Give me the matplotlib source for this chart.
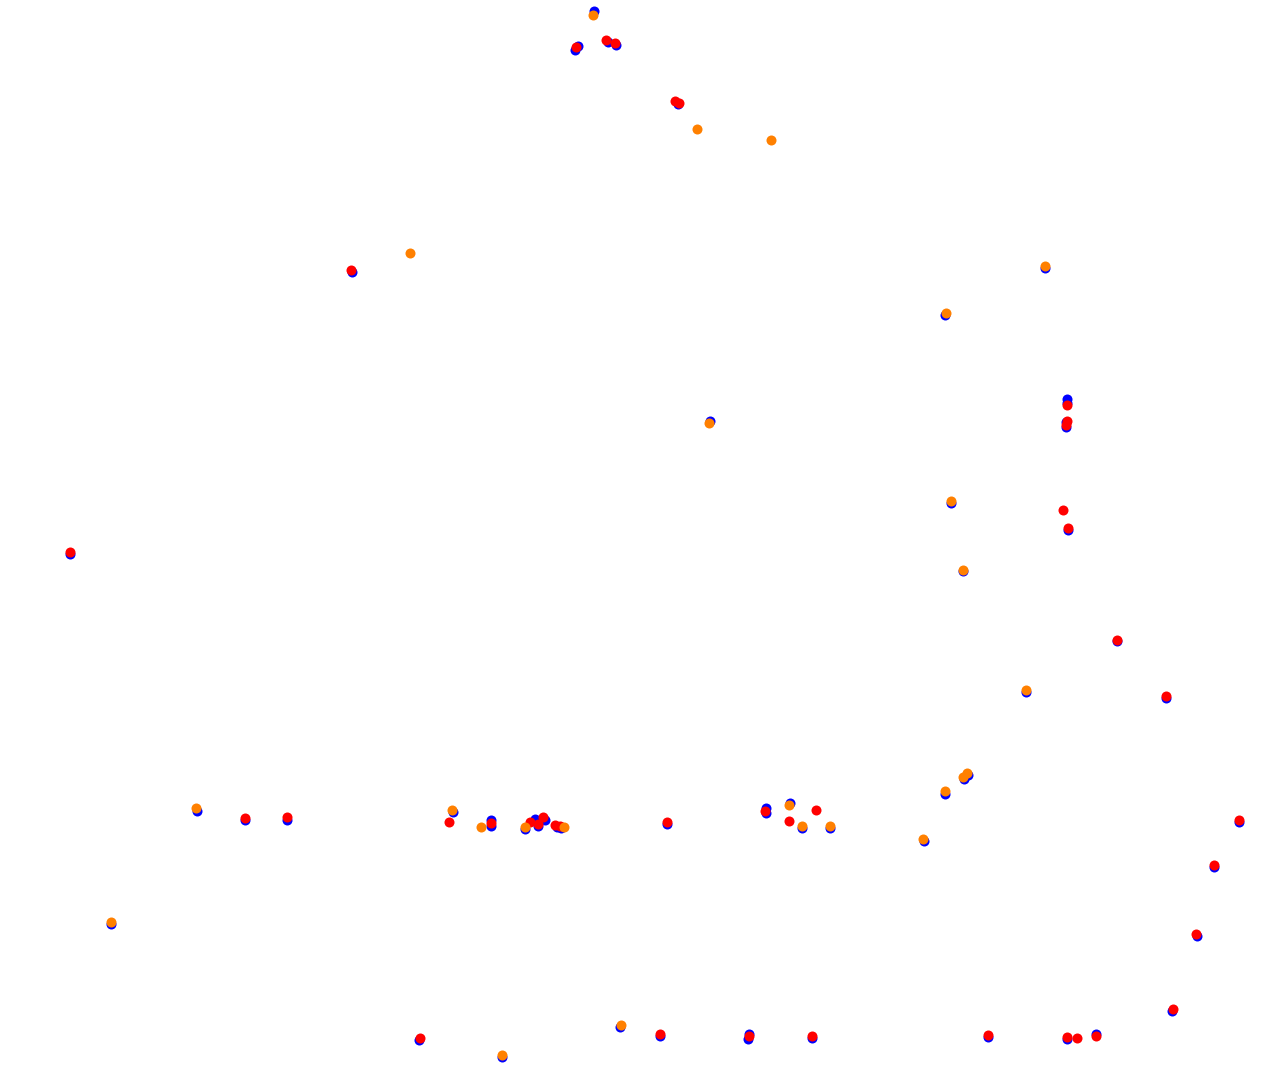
import matplotlib
matplotlib.use("Agg")
import matplotlib.pyplot as plt

blue_x = [594, 575, 578, 608, 616, 678, 352, 1045, 945, 710, 1067, 1067, 1066, 1066, 1068,
          951, 963, 1117, 1026, 1166, 968, 964, 945, 924, 70, 197, 245, 287, 453, 491, 491,
          525, 535, 538, 545, 557, 561, 667, 766, 766, 790, 802, 830, 1239, 1214, 1197, 111,
          1172, 419, 502, 620, 660, 749, 748, 812, 988, 1067, 1096]
blue_y = [11, 50, 46, 42, 45, 104, 272, 268, 315, 421, 399, 403, 422, 427, 530,
          503, 571, 641, 692, 698, 775, 779, 794, 841, 554, 811, 820, 820, 812, 820, 826,
          829, 819, 826, 820, 827, 828, 824, 808, 813, 803, 828, 828, 822, 867, 936, 924,
          1011, 1040, 1057, 1027, 1036, 1034, 1039, 1038, 1037, 1039, 1034]

red_x = [576, 606, 615, 675, 679, 351, 1067, 1067, 1066, 1063, 1068, 1117, 1166, 70, 245, 287,
         449, 491, 530, 538, 543, 555, 560, 667, 765, 816, 789, 1239, 1214, 1196, 1173, 420,
         660, 749, 812, 988, 1067, 1077, 1096]
red_y = [47, 40, 43, 101, 103, 270, 405, 421, 425, 510, 528, 640, 696, 552, 818, 817,
         822, 823, 822, 824, 817, 825, 826, 822, 811, 810, 821, 820, 865, 934, 1009, 1038,
         1034, 1036, 1036, 1035, 1037, 1038, 1036]

orange_x = [593, 697, 771, 410, 1045, 946, 709, 951, 963, 1026, 967, 963, 945, 923, 196, 452,
            481, 525, 564, 789, 802, 830, 111, 502, 621]
orange_y = [15, 129, 140, 253, 266, 313, 423, 501, 570, 690, 773, 777, 791, 839, 808, 810,
            827, 827, 827, 805, 826, 826, 922, 1055, 1025]

fig = plt.figure(figsize=(12.77, 10.8), dpi=100)
ax = fig.add_axes([0, 0, 1, 1])
ax.scatter(blue_x, blue_y, s=52, color="#0000ff", linewidths=0, zorder=1)
ax.scatter(red_x, red_y, s=52, color="#ff0000", linewidths=0, zorder=2)
ax.scatter(orange_x, orange_y, s=52, color="#ff8000", linewidths=0, zorder=3)
ax.set_xlim(0, 1277)
ax.set_ylim(1080, 0)
ax.axis("off")
fig.savefig("out.png", dpi=100, facecolor="white")
